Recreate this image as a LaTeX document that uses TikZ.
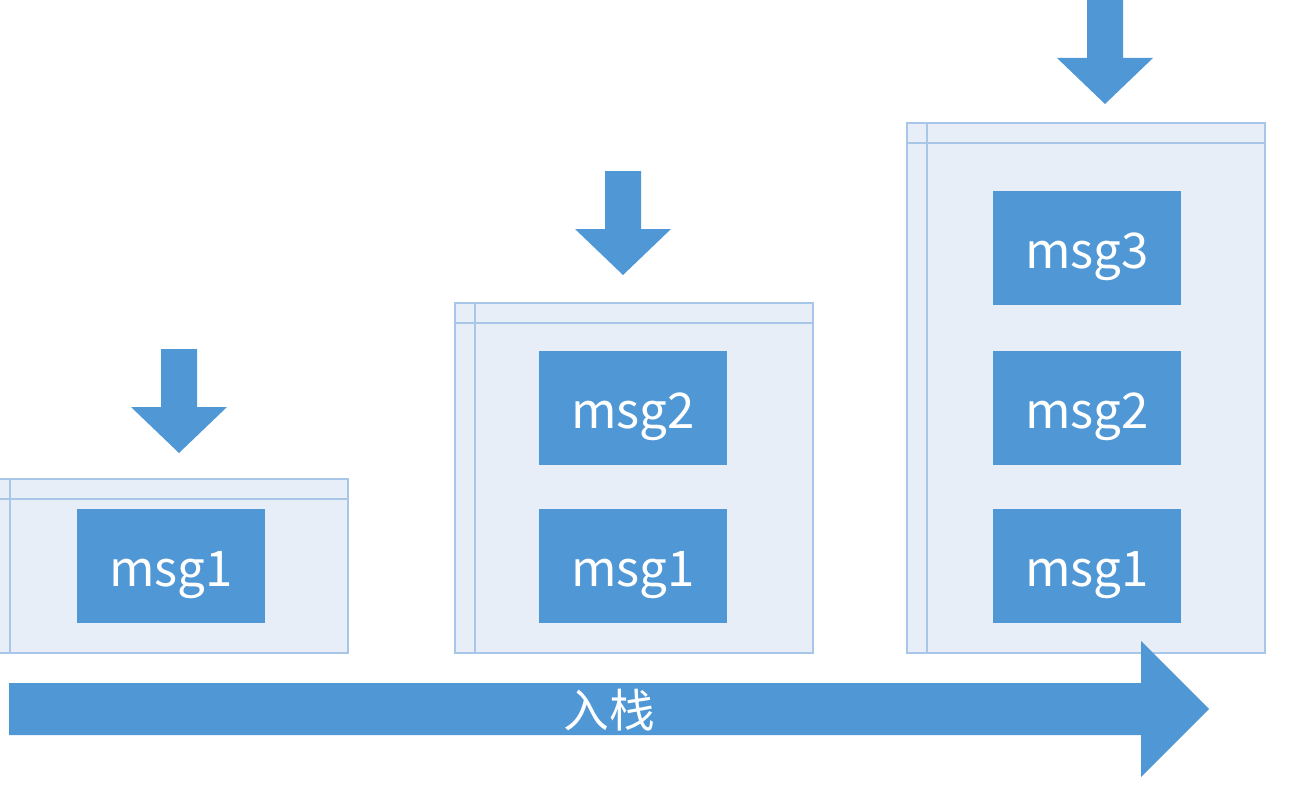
\documentclass[tikz,border=0pt]{standalone}
\usepackage{fontspec}
\setmainfont{Noto Sans CJK SC}
\definecolor{msgblue}{RGB}{80,151,213}
\definecolor{boxfill}{RGB}{232,238,247}
\definecolor{boxline}{RGB}{168,198,232}
\tikzset{
  msg/.style={fill=msgblue,text=white,minimum width=3.76cm,minimum height=2.28cm,inner sep=0pt,
    text height=29pt,text depth=6pt,font=\fontsize{28}{32}\selectfont},
  stack/.style={fill=boxfill,draw=boxline,line width=1pt},
}
\begin{document}
\begin{tikzpicture}[x=0.02cm,y=-0.02cm]
\useasboundingbox (0,0) rectangle (1290,784);
% stacks
\foreach \l/\t in {-10/479,455/303,907/123}{
\pgfmathsetmacro{\r}{\l+358}
\filldraw[stack] (\l,\t) rectangle (\r,653);
\draw[boxline,line width=1pt] (\l,\t+20)--(\r,\t+20);
\draw[boxline,line width=1pt] (\l+20,\t)--(\l+20,653);
}
% push arrows
\foreach \c/\t in {179/349,623/171,1105/0}{
\fill[msgblue] (\c-18,\t)--(\c+18,\t)--(\c+18,\t+58)--(\c+48,\t+58)--(\c,\t+104)
  --(\c-48,\t+58)--(\c-18,\t+58)--cycle;
}
\node[msg] (a1) at (171,566) {msg1};
\node[msg] (b2) at (633,408) {msg2};
\node[msg] (b1) at (633,566) {msg1};
\node[msg] (c3) at (1087,248) {msg3};
\node[msg] (c2) at (1087,408) {msg2};
\node[msg] (c1) at (1087,566) {msg1};
% time axis
\fill[msgblue] (9,683)--(1141,683)--(1141,641)--(1209,709)--(1141,777)--(1141,735)--(9,735)--cycle;
\node[text=white,font=\fontsize{26}{30}\selectfont] (push) at (609,710) {入栈};
\end{tikzpicture}
\end{document}
